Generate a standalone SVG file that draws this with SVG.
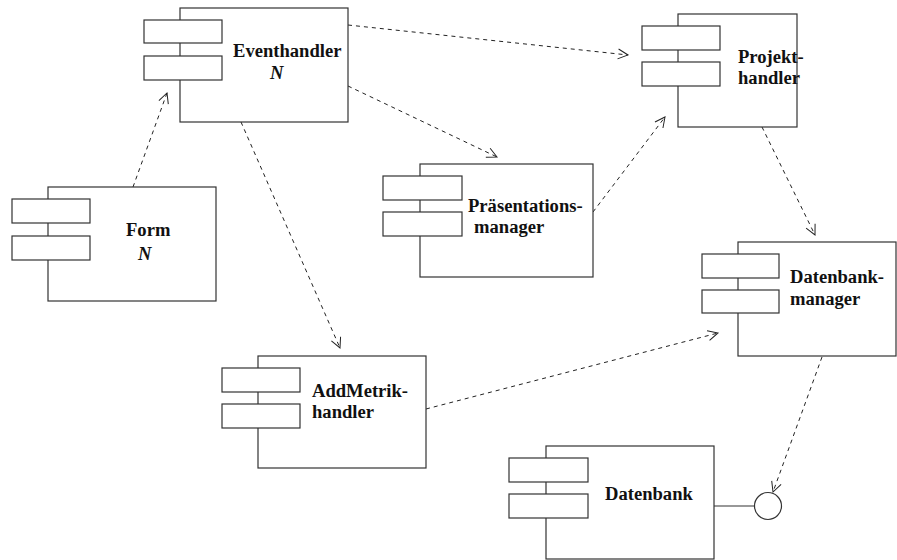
<svg xmlns="http://www.w3.org/2000/svg" width="897" height="560" viewBox="0 0 897 560">
  <style>
    .box { fill: #fff; stroke: #333; stroke-width: 1.2; }
    .port { fill: #fff; stroke: #333; stroke-width: 1.2; }
    .lbl { font-family: "Liberation Serif", "Times New Roman", serif; font-weight: bold; font-size: 18.6px; fill: #111; }
    .mult { font-family: "Liberation Serif", "Times New Roman", serif; font-weight: bold; font-style: italic; font-size: 18.6px; fill: #111; }
    .dep { fill: none; stroke: #222; stroke-width: 1; stroke-dasharray: 4 4; marker-end: url(#open); }
    .solid { fill: none; stroke: #333; stroke-width: 1.2; }
  </style>
  <defs>
    <marker id="open" viewBox="0 0 12 12" refX="11" refY="6" markerWidth="12" markerHeight="12" markerUnits="userSpaceOnUse" orient="auto">
      <path d="M1,1 L11,6 L1,11" fill="none" stroke="#222" stroke-width="1"/>
    </marker>
  </defs>
  <rect width="897" height="560" fill="#fff"/>

  <g id="connectors">
    <line class="dep" x1="133" y1="187" x2="167" y2="93"/>
    <line class="dep" x1="348" y1="25" x2="628" y2="55"/>
    <line class="dep" x1="348" y1="86" x2="497" y2="157"/>
    <line class="dep" x1="241" y1="122" x2="340" y2="348"/>
    <line class="dep" x1="593" y1="212" x2="665" y2="117"/>
    <line class="dep" x1="762" y1="127" x2="815" y2="235"/>
    <line class="dep" x1="426" y1="409" x2="718" y2="333"/>
    <line class="dep" x1="822" y1="357" x2="773" y2="492"/>
    <line class="solid" x1="714" y1="506" x2="754" y2="506"/>
  </g>

  <g id="eventhandler">
    <rect class="box" x="180" y="8" width="168" height="114"/>
    <rect class="port" x="144" y="20" width="78" height="23"/>
    <rect class="port" x="144" y="56" width="78" height="24"/>
    <text class="lbl" x="233" y="57">Eventhandler</text>
    <text class="mult" x="270" y="79">N</text>
  </g>

  <g id="form">
    <rect class="box" x="48" y="187" width="168" height="114"/>
    <rect class="port" x="12" y="199" width="78" height="24"/>
    <rect class="port" x="12" y="236" width="78" height="24"/>
    <text class="lbl" x="126" y="236">Form</text>
    <text class="mult" x="138" y="260">N</text>
  </g>

  <g id="projekthandler">
    <rect class="box" x="678" y="14" width="119" height="113"/>
    <rect class="port" x="642" y="26" width="78" height="24"/>
    <rect class="port" x="642" y="62" width="78" height="24"/>
    <text class="lbl" x="738" y="63">Projekt-</text>
    <text class="lbl" x="738" y="84">handler</text>
  </g>

  <g id="praesentationsmanager">
    <rect class="box" x="420" y="164" width="173" height="113"/>
    <rect class="port" x="383" y="176" width="79" height="24"/>
    <rect class="port" x="383" y="212" width="79" height="24"/>
    <text class="lbl" x="468" y="212">Präsentations-</text>
    <text class="lbl" x="474" y="233">manager</text>
  </g>

  <g id="datenbankmanager">
    <rect class="box" x="738" y="242" width="158" height="114"/>
    <rect class="port" x="702" y="254" width="77" height="24"/>
    <rect class="port" x="702" y="290" width="77" height="23"/>
    <text class="lbl" x="790" y="283">Datenbank-</text>
    <text class="lbl" x="790" y="305">manager</text>
  </g>

  <g id="addmetrikhandler">
    <rect class="box" x="258" y="356" width="168" height="112"/>
    <rect class="port" x="222" y="368" width="78" height="24"/>
    <rect class="port" x="222" y="404" width="78" height="24"/>
    <text class="lbl" x="312" y="397">AddMetrik-</text>
    <text class="lbl" x="312" y="418">handler</text>
  </g>

  <g id="datenbank">
    <rect class="box" x="546" y="446" width="168" height="113"/>
    <rect class="port" x="509" y="458" width="79" height="24"/>
    <rect class="port" x="509" y="494" width="79" height="24"/>
    <text class="lbl" x="605" y="500">Datenbank</text>
  </g>

  <g id="interface">
    <circle class="box" cx="768" cy="506" r="13.5"/>
  </g>
</svg>
